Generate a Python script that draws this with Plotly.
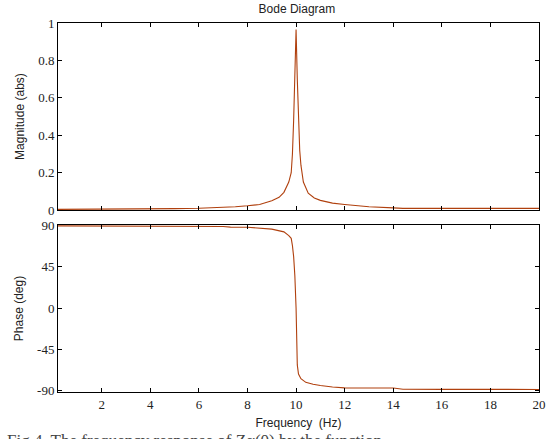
import plotly.graph_objects as go
from plotly.subplots import make_subplots

# Magnitude data
mag_freq = [0.2, 1, 2, 3, 4, 4.8, 5, 6, 7, 7.5, 8, 8.5, 9, 9.3, 9.5, 9.7, 9.8, 9.85, 9.9, 9.95,
            10.0, 10.05, 10.1, 10.15, 10.2, 10.3, 10.5, 10.75, 11, 11.5, 12, 13, 14, 14.4, 16, 18, 20]
mag_vals = [0.004, 0.004, 0.004, 0.004, 0.005, 0.006, 0.008, 0.010, 0.014, 0.018, 0.023, 0.030,
            0.050, 0.068, 0.095, 0.15, 0.20, 0.30, 0.48, 0.72,
            0.965, 0.70, 0.46, 0.32, 0.24, 0.15, 0.09, 0.065, 0.052, 0.037, 0.030, 0.018, 0.012,
            0.009, 0.009, 0.009, 0.009]

# Phase data
ph_freq = [0.2, 2, 4, 6, 7, 7.3, 8, 9, 9.5, 9.7, 9.8, 9.85, 9.9, 9.95, 10.0, 10.05, 10.1, 10.2,
           10.4, 10.7, 11, 11.5, 12, 14, 14.4, 16, 18, 20]
ph_vals = [89.5, 89.5, 89.3, 89.0, 88.8, 88.2, 88.0, 86.0, 83.0, 79.0, 76.0, 68.0, 56.0, 35.0,
           0.0, -62.0, -72.0, -77.0, -81.0, -83.0, -84.5, -86.0, -87.0, -87.2, -88.5, -88.6,
           -88.7, -88.7]

x_ticks = [2, 4, 6, 8, 10, 12, 14, 16, 18, 20]
mag_ticks = [0, 0.2, 0.4, 0.6, 0.8, 1]
mag_ticklabels = ["0", "0.2", "0.4", "0.6", "0.8", "1"]
ph_ticks = [-90, -45, 0, 45, 90]
ph_ticklabels = ["-90", "-45", "0", "45", "90"]

line_color = "#B0400E"
serif = "Liberation Serif"
sans = "Liberation Sans"

fig = make_subplots(rows=2, cols=1, shared_xaxes=False, vertical_spacing=0.04)
fig.add_trace(go.Scatter(x=mag_freq, y=mag_vals, mode="lines",
                         line=dict(color=line_color, width=1.1), showlegend=False), row=1, col=1)
fig.add_trace(go.Scatter(x=ph_freq, y=ph_vals, mode="lines",
                         line=dict(color=line_color, width=1.1), showlegend=False), row=2, col=1)

axis_common = dict(showgrid=False, zeroline=False, showline=True, linecolor="black",
                   linewidth=1, mirror="allticks", ticks="inside", ticklen=4,
                   tickcolor="black", automargin=False,
                   tickfont=dict(family=serif, size=13, color="#222"))

fig.update_xaxes(range=[0.2, 20], tickvals=x_ticks, **axis_common)
fig.update_xaxes(showticklabels=False, row=1, col=1)
fig.update_xaxes(title=dict(text="Frequency  (Hz)", font=dict(family=sans, size=12, color="#222"),
                            standoff=8), row=2, col=1)
fig.update_yaxes(range=[0, 1], tickvals=mag_ticks, ticktext=mag_ticklabels,
                 title=dict(text="Magnitude (abs)", font=dict(family=sans, size=12, color="#222"),
                            standoff=10),
                 row=1, col=1, **axis_common)
fig.update_yaxes(range=[-91.5, 90.5], tickvals=ph_ticks, ticktext=ph_ticklabels,
                 title=dict(text="Phase (deg)", font=dict(family=sans, size=12, color="#222"),
                            standoff=10),
                 row=2, col=1, **axis_common)

fig.update_layout(
    width=555, height=439,
    margin=dict(l=58, r=16, t=23, b=47),
    paper_bgcolor="white", plot_bgcolor="white",
    yaxis=dict(domain=[0.493, 1.0]),
    yaxis2=dict(domain=[0.0, 0.4526]),
    title=dict(text="Bode Diagram", x=0.535, xanchor="center", y=0.981, yanchor="middle",
               font=dict(family=sans, size=12, color="#222")),
)

fig.add_annotation(text="Fig.4. The frequency response of Z\u03b1(0) by the function",
                   xref="paper", yref="paper", x=-0.11, y=-0.1, xanchor="left", yanchor="top",
                   showarrow=False, font=dict(family=serif, size=17, color="#444"))

fig.write_html("out.html", config={"displayModeBar": False},
               post_script="document.body.style.margin='0';document.body.style.padding='0';")
